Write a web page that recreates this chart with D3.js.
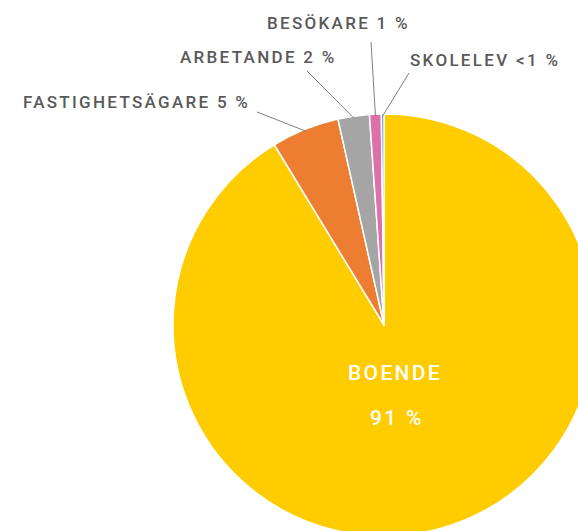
<!DOCTYPE html>
<html>
<head>
<meta charset="utf-8">
<script src="https://cdn.jsdelivr.net/npm/d3@7"></script>
<style>
  body { margin: 0; background: #fff; }
  svg { display: block; }
  .lbl { font-family: Roboto, "DejaVu Sans", sans-serif; font-weight: 500; font-size: 17px; letter-spacing: 2.3px; fill: #595959; }
  .inner { font-family: Roboto, "DejaVu Sans", sans-serif; font-weight: 500; font-size: 21px; letter-spacing: 2.3px; fill: #fff; }
</style>
</head>
<body>
<svg width="578" height="531"></svg>
<script>
var width = 578,
    height = 531,
    cx = 384,
    cy = 325,
    radius = 211

// clockwise from 12 o'clock
var categories = ["BOENDE", "FASTIGHETSÄGARE", "ARBETANDE", "BESÖKARE", "SKOLELEV"]
var values = [91.3, 5.2, 2.4, 0.9, 0.2]
var labels = ["91 %", "5 %", "2 %", "1 %", "<1 %"]
var colors = ["#ffcc00", "#ed7d31", "#a5a5a5", "#dd6fab", "#5b9bd5"]

// where the outside labels sit (x, baseline y) and where their leader line starts
var labelPos = {
    "FASTIGHETSÄGARE": { x: 23, y: 108, lx: 257, ly: 112 },
    "ARBETANDE": { x: 180, y: 63, lx: 307, ly: 71 },
    "BESÖKARE": { x: 267, y: 29, lx: 371, ly: 42 },
    "SKOLELEV": { x: 410, y: 66, lx: 409, ly: 73 }
}

document.addEventListener("DOMContentLoaded", function() {
    var svg = d3.select("svg")
    var g = svg.append("g").attr("transform", "translate(" + cx + "," + cy + ")")

    var data = categories.map(function(c, i) {
        return { name: c, value: values[i], label: labels[i], color: colors[i] }
    })

    var pie = d3.pie().sort(null).value(function(d) { return d.value })
    var arc = d3.arc().innerRadius(0).outerRadius(radius)
    var arcs = pie(data)

    g.selectAll("path.slice")
        .data(arcs)
        .enter()
        .append("path")
        .attr("class", "slice")
        .attr("d", arc)
        .style("fill", function(d) { return d.data.color })
        .style("stroke", "#fff")
        .style("stroke-width", 1.5)
        .style("stroke-linejoin", "round")

    // leader lines
    var outer = arcs.filter(function(d) { return labelPos[d.data.name] })
    g.selectAll("line.leader")
        .data(outer)
        .enter()
        .append("line")
        .attr("class", "leader")
        .attr("x1", function(d) { return labelPos[d.data.name].lx - cx })
        .attr("y1", function(d) { return labelPos[d.data.name].ly - cy })
        .attr("x2", function(d) {
            var a = (d.startAngle + d.endAngle) / 2
            return Math.sin(a) * (radius - 2)
        })
        .attr("y2", function(d) {
            var a = (d.startAngle + d.endAngle) / 2
            return -Math.cos(a) * (radius - 2)
        })
        .style("stroke", "#7f7f7f")
        .style("stroke-width", 1)

    svg.selectAll("text.lbl")
        .data(outer)
        .enter()
        .append("text")
        .attr("class", "lbl")
        .attr("x", function(d) { return labelPos[d.data.name].x })
        .attr("y", function(d) { return labelPos[d.data.name].y })
        .text(function(d) { return d.data.name + " " + d.data.label })

    // big slice label inside
    var big = arcs[0]
    svg.append("text").attr("class", "inner")
        .attr("x", 395).attr("y", 380)
        .attr("text-anchor", "middle")
        .text(big.data.name)
    svg.append("text").attr("class", "inner")
        .attr("x", 397).attr("y", 425)
        .attr("text-anchor", "middle")
        .text(big.data.label)
})
</script>
</body>
</html>
